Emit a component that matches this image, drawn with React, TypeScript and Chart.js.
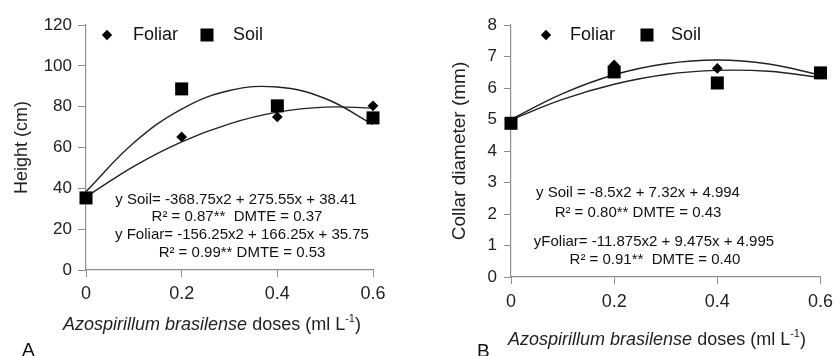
import React, { useEffect, useRef } from "react";
import { Chart, registerables } from "chart.js";

Chart.register(...registerables);

// ---------- data ----------
const doses = [0, 0.2, 0.4, 0.6];
const xTicks = [0, 0.2, 0.4, 0.6];
const xTickLabels = ["0", "0.2", "0.4", "0.6"];

// Panel A: plant height (cm)
const heightFoliar = [35.5, 65.2, 75.0, 80.4];
const heightSoil = [35.3, 88.7, 80.4, 74.5];
const curveX = [0, 0.1, 0.2, 0.3, 0.4, 0.5, 0.6];
const heightSoilCurve = [38.4, 62.3, 78.8, 87.9, 89.6, 84.0, 71.3];
const heightFoliarCurve = [35.8, 50.8, 62.8, 71.6, 77.3, 79.8, 79.3];
const heightTicks = [0, 20, 40, 60, 80, 100, 120];

// Panel B: collar diameter (mm)
const diamFoliar = [4.9, 6.73, 6.62, 6.5];
const diamSoil = [4.88, 6.51, 6.16, 6.48];
const diamSoilCurve = [4.99, 5.64, 6.12, 6.43, 6.56, 6.53, 6.33];
const diamFoliarCurve = [5.0, 5.82, 6.42, 6.77, 6.89, 6.76, 6.41];
const diamTicks = [0, 1, 2, 3, 4, 5, 6, 7, 8];

const legendLabels = ["Foliar", "Soil"];
const heightNotes = [
  "y Soil= -368.75x2 + 275.55x + 38.41",
  "R² = 0.87**  DMTE = 0.37",
  "y Foliar= -156.25x2 + 166.25x + 35.75",
  "R² = 0.99** DMTE = 0.53",
];
const diamNotes = [
  "y Soil = -8.5x2 + 7.32x + 4.994",
  "R² = 0.80** DMTE = 0.43",
  "yFoliar= -11.875x2 + 9.475x + 4.995",
  "R² = 0.91**  DMTE = 0.40",
];

// ---------- style ----------
const FONT = "'Liberation Sans', Arial, Helvetica, sans-serif";
const AXIS = "#8e8e8e";
const TEXT = "#222";

const xy = (xs: number[], ys: number[]) => xs.map((x, i) => ({ x, y: ys[i] }));

type Panel = {
  foliar: number[];
  soil: number[];
  foliarCurve: number[];
  soilCurve: number[];
  yTicks: number[];
  yTitle: string;
  yTitleSize: number;
  yTitlePad: number;
  yAxisWidth: number;
  yTickLen: number;
  yTickPad: number;
  xAxisHeight: number;
  xTickLen: number;
  xTickPad: number;
  top: number;
  right: number;
  notes: string[];
  notePos: number[][];
  legendPos: { diamond: number[]; foliarText: number; square: number[]; soilText: number };
  xTitlePos: number[];
  letter: string;
  letterPos: number[];
};

function drawXTitle(ctx: CanvasRenderingContext2D, cx: number, cy: number) {
  const size = 18;
  const parts = [
    { t: "Azospirillum brasilense", f: `italic ${size}px ${FONT}`, dy: 0 },
    { t: " doses (ml L", f: `${size}px ${FONT}`, dy: 0 },
    { t: "-1", f: `${Math.round(size * 0.6)}px ${FONT}`, dy: -6 },
    { t: ")", f: `${size}px ${FONT}`, dy: 0 },
  ];
  let total = 0;
  const widths = parts.map((p) => {
    ctx.font = p.f;
    const w = ctx.measureText(p.t).width;
    total += w;
    return w;
  });
  let x = cx - total / 2;
  ctx.textBaseline = "middle";
  ctx.textAlign = "left";
  ctx.fillStyle = TEXT;
  parts.forEach((p, i) => {
    ctx.font = p.f;
    ctx.fillText(p.t, x, cy + p.dy);
    x += widths[i];
  });
}

function makePlugin(p: Panel) {
  return {
    id: "decor",
    afterDraw(chart: any) {
      const ctx: CanvasRenderingContext2D = chart.ctx;
      ctx.save();
      // legend
      const lp = p.legendPos;
      ctx.fillStyle = "#000";
      const [dx, dy] = lp.diamond;
      const r = 5.2;
      ctx.beginPath();
      ctx.moveTo(dx, dy - r);
      ctx.lineTo(dx + r, dy);
      ctx.lineTo(dx, dy + r);
      ctx.lineTo(dx - r, dy);
      ctx.closePath();
      ctx.fill();
      const [sx, sy] = lp.square;
      ctx.fillRect(sx - 6.5, sy - 6.5, 13, 13);
      ctx.font = `18px ${FONT}`;
      ctx.textBaseline = "middle";
      ctx.textAlign = "left";
      ctx.fillStyle = "#111";
      ctx.fillText(legendLabels[0], lp.foliarText, dy);
      ctx.fillText(legendLabels[1], lp.soilText, sy);
      // regression notes
      ctx.font = `15px ${FONT}`;
      ctx.textAlign = "center";
      ctx.fillStyle = "#111";
      p.notes.forEach((n, i) => ctx.fillText(n, p.notePos[i][0], p.notePos[i][1]));
      // x title
      drawXTitle(ctx, p.xTitlePos[0], p.xTitlePos[1]);
      // panel letter
      ctx.font = `19px ${FONT}`;
      ctx.textAlign = "left";
      ctx.textBaseline = "alphabetic";
      ctx.fillStyle = "#111";
      ctx.fillText(p.letter, p.letterPos[0], p.letterPos[1]);
      ctx.restore();
    },
  };
}

function makeConfig(p: Panel): any {
  const pointBase = {
    showLine: false,
    borderWidth: 0,
    backgroundColor: "#000",
    borderColor: "#000",
    clip: false,
  };
  const lineBase = {
    type: "line",
    borderColor: "#222",
    borderWidth: 1.4,
    pointRadius: 0,
    tension: 0.4,
    fill: false,
    clip: false,
  };
  return {
    type: "scatter",
    data: {
      datasets: [
        { ...pointBase, label: "Soil", data: xy(doses, p.soil), pointStyle: "rect", pointRadius: 9.2 },
        { ...pointBase, label: "Foliar", data: xy(doses, p.foliar), pointStyle: "rectRot", pointRadius: 5.4 },
        { ...lineBase, label: "Soil fit", data: xy(curveX, p.soilCurve) },
        { ...lineBase, label: "Foliar fit", data: xy(curveX, p.foliarCurve) },
      ],
    },
    options: {
      responsive: false,
      animation: false,
      events: [],
      layout: { padding: { top: p.top, right: p.right, left: 0, bottom: 0 } },
      plugins: { legend: { display: false }, tooltip: { enabled: false } },
      scales: {
        x: {
          type: "linear",
          min: xTicks[0],
          max: xTicks[xTicks.length - 1],
          afterBuildTicks: (s: any) => {
            s.ticks = xTicks.map((v) => ({ value: v }));
          },
          afterFit: (s: any) => {
            s.height = p.xAxisHeight;
          },
          ticks: {
            callback: (_v: any, i: number) => xTickLabels[i],
            font: { family: FONT, size: 18 },
            color: TEXT,
            padding: p.xTickPad,
            maxRotation: 0,
          },
          grid: { drawOnChartArea: false, tickLength: p.xTickLen, color: AXIS },
          border: { color: AXIS, width: 1.2 },
        },
        y: {
          type: "linear",
          min: p.yTicks[0],
          max: p.yTicks[p.yTicks.length - 1],
          afterBuildTicks: (s: any) => {
            s.ticks = p.yTicks.map((v) => ({ value: v }));
          },
          afterFit: (s: any) => {
            s.width = p.yAxisWidth;
          },
          ticks: {
            callback: (v: any) => String(v),
            font: { family: FONT, size: 17 },
            color: TEXT,
            padding: p.yTickPad,
          },
          grid: { drawOnChartArea: false, tickLength: p.yTickLen, color: AXIS },
          border: { color: AXIS, width: 1.2 },
          title: {
            display: true,
            text: p.yTitle,
            font: { family: FONT, size: p.yTitleSize },
            color: TEXT,
            padding: { top: p.yTitlePad, bottom: 0 },
          },
        },
      },
    },
    plugins: [makePlugin(p)],
  };
}

const panelA: Panel = {
  foliar: heightFoliar,
  soil: heightSoil,
  foliarCurve: heightFoliarCurve,
  soilCurve: heightSoilCurve,
  yTicks: heightTicks,
  yTitle: "Height (cm)",
  yTitleSize: 18,
  yTitlePad: 11,
  yAxisWidth: 86,
  yTickLen: 8,
  yTickPad: 6,
  xAxisHeight: 86,
  xTickLen: 7,
  xTickPad: 6,
  top: 25,
  right: 47,
  notes: heightNotes,
  notePos: [
    [236, 200],
    [237, 217],
    [242, 235],
    [242, 253],
  ],
  legendPos: { diamond: [107, 35], foliarText: 133, square: [207, 35], soilText: 233 },
  xTitlePos: [212, 325],
  letter: "A",
  letterPos: [22, 356],
};

const panelB: Panel = {
  foliar: diamFoliar,
  soil: diamSoil,
  foliarCurve: diamFoliarCurve,
  soilCurve: diamSoilCurve,
  yTicks: diamTicks,
  yTitle: "Collar diameter (mm)",
  yTitleSize: 19,
  yTitlePad: 28,
  yAxisWidth: 91,
  yTickLen: 7,
  yTickPad: 7,
  xAxisHeight: 79,
  xTickLen: 7,
  xTickPad: 7,
  top: 25,
  right: 13,
  notes: diamNotes,
  notePos: [
    [218, 193],
    [218, 213],
    [234, 242],
    [235, 260],
  ],
  legendPos: { diamond: [126, 35], foliarText: 150, square: [227, 35], soilText: 251 },
  xTitlePos: [237, 340],
  letter: "B",
  letterPos: [57, 357],
};

function ChartPanel({ panel }: { panel: Panel }) {
  const ref = useRef<HTMLCanvasElement | null>(null);
  useEffect(() => {
    if (!ref.current) return;
    const chart = new Chart(ref.current, makeConfig(panel));
    return () => chart.destroy();
  }, [panel]);
  return <canvas ref={ref} width={420} height={356} style={{ display: "block", width: 420, height: 356 }} />;
}

export default function App() {
  return (
    <div
      style={{
        position: "fixed",
        left: 0,
        top: 0,
        width: 840,
        height: 356,
        display: "flex",
        background: "#fff",
        overflow: "hidden",
      }}
    >
      <ChartPanel panel={panelA} />
      <ChartPanel panel={panelB} />
    </div>
  );
}
